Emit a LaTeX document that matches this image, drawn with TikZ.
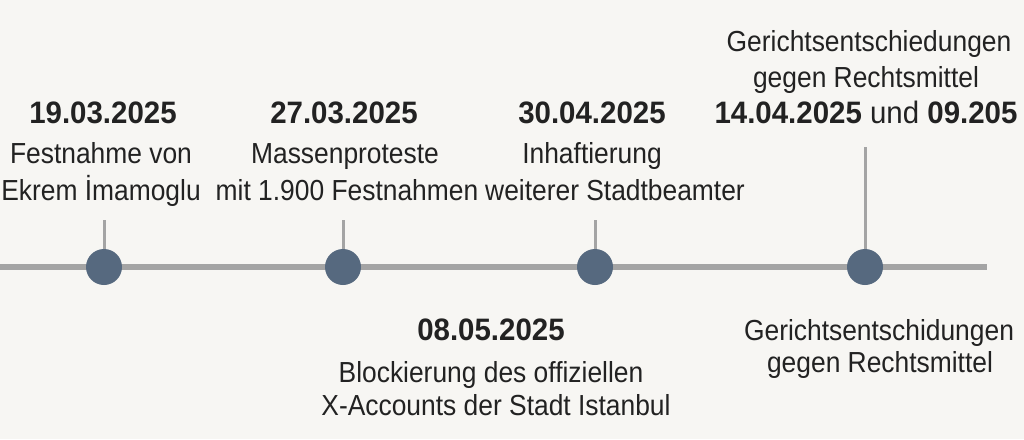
\documentclass[tikz,border=0pt]{standalone}
\usepackage{fontspec}
\setmainfont{Liberation Sans}
\newfontfamily\condfont[FakeStretch=0.91]{Liberation Sans}
\newfontfamily\datefont[FakeStretch=0.95]{Liberation Sans}
\definecolor{bg}{HTML}{F7F6F3}
\definecolor{ink}{HTML}{222222}
\definecolor{axis}{HTML}{A4A4A4}
\definecolor{dotc}{HTML}{56697F}
\begin{document}
\begin{tikzpicture}[x=1pt,y=-1pt,
  datet/.style={font=\datefont\fontsize{31}{31}\selectfont\bfseries, text=ink, anchor=base, inner sep=0pt},
  bodyt/.style={font=\condfont\fontsize{29}{29}\selectfont, text=ink, anchor=base, inner sep=0pt},
  dotn/.style={circle, fill=dotc, minimum size=36pt, inner sep=0pt},
  tickl/.style={draw=axis, line width=3pt},
  axisl/.style={draw=axis, line width=6pt}]
\fill[bg] (0,0) rectangle (1024,439);
\useasboundingbox (0,0) rectangle (1024,439);
% axis
\coordinate (L) at (0,267);
\coordinate (R) at (987,267);
\draw[axisl] (L) -- (R);
% dots
\node[dotn] (d1) at (104,267) {};
\node[dotn] (d2) at (343,267) {};
\node[dotn] (d3) at (595,267) {};
\node[dotn] (d4) at (865,267) {};
% tick tops
\coordinate (t1) at (104,220);
\coordinate (t2) at (343,220);
\coordinate (t3) at (595,220);
\coordinate (t4) at (865,147);
\draw[tickl] (d1) -- (t1);
\draw[tickl] (d2) -- (t2);
\draw[tickl] (d3) -- (t3);
\draw[tickl] (d4) -- (t4);
% event 1
\node[datet] (e1d) at (103,123) {19.03.2025};
\node[bodyt] (e1a) at (101,163) {Festnahme von};
\node[bodyt] (e1b) at (101,200) {Ekrem İmamoglu};
% event 2
\node[datet] (e2d) at (344,123) {27.03.2025};
\node[bodyt] (e2a) at (345,163) {Massenproteste};
\node[bodyt] (e2b) at (347,200) {mit 1.900 Festnahmen};
% event 3
\node[datet] (e3d) at (592,123) {30.04.2025};
\node[bodyt] (e3a) at (592,163) {Inhaftierung};
\node[bodyt] (e3b) at (615,200) {weiterer Stadtbeamter};
% event 4 (top right)
\node[bodyt] (e4a) at (869,51) {Gerichtsentschiedungen};
\node[bodyt] (e4b) at (866,87) {gegen Rechtsmittel};
\node[datet] (e4d) at (866,123) {14.04.2025 {\mdseries und} 09.205};
% event 5 (below)
\node[datet] (e5d) at (491,340) {08.05.2025};
\node[bodyt] (e5a) at (491,382) {Blockierung des offiziellen};
\node[bodyt] (e5b) at (496,415) {X-Accounts der Stadt Istanbul};
% event 6 (bottom right)
\node[bodyt] (e6a) at (879,340) {Gerichtsentschidungen};
\node[bodyt] (e6b) at (880,372) {gegen Rechtsmittel};
\end{tikzpicture}
\end{document}
